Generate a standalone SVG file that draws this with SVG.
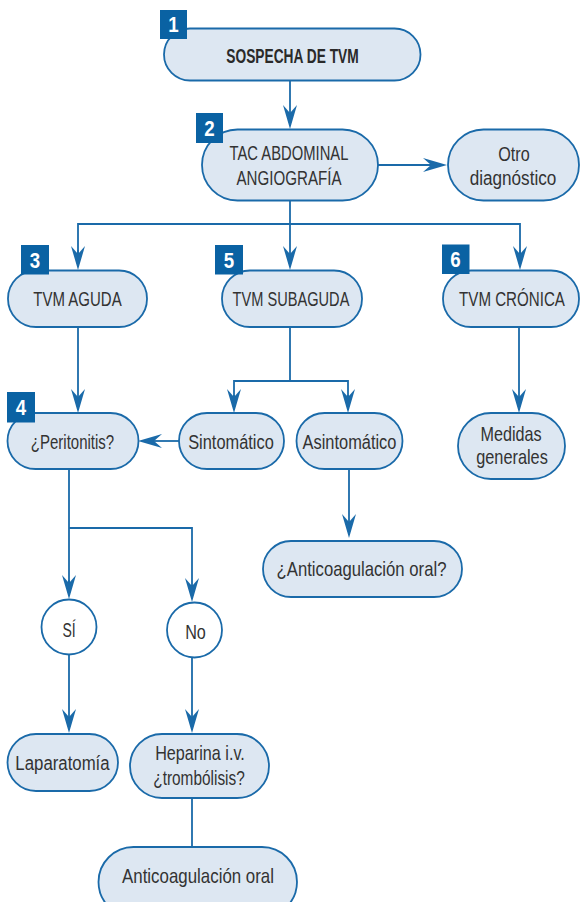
<svg xmlns="http://www.w3.org/2000/svg" width="580" height="902" viewBox="0 0 580 902">
<style>
.n{fill:#dde7f2;stroke:#1a6aa9;stroke-width:1.8}
.c{fill:none;stroke:#1a6aa9;stroke-width:1.8}
.b{fill:#0a62a3}
.t{font-family:"Liberation Sans",Arial,sans-serif;font-size:21px;fill:#333;text-anchor:middle}
.tb{font-family:"Liberation Sans",Arial,sans-serif;font-size:21px;font-weight:bold;fill:#2a2a2a;text-anchor:middle}
.bn{font-family:"Liberation Sans",Arial,sans-serif;font-size:22px;font-weight:bold;fill:#fff;text-anchor:middle}
</style>
<defs>
<marker id="ah" viewBox="0 0 24 14" refX="14" refY="7" markerWidth="24" markerHeight="14" markerUnits="userSpaceOnUse" orient="auto">
<path d="M24,7 L0,0 L8,7 L0,14 Z" fill="#1a6aa9"/>
</marker>
</defs>
<rect width="580" height="902" fill="#fff"/>
<g id="connectors">
<path class="c" d="M290,81 V119" marker-end="url(#ah)"/>
<path class="c" d="M378,165 H437" marker-end="url(#ah)"/>
<path class="c" d="M290,201 V260" marker-end="url(#ah)"/>
<path class="c" d="M78,260 V224 H520 V260" />
<path class="c" d="M78,250 V260" marker-end="url(#ah)"/>
<path class="c" d="M520,250 V260" marker-end="url(#ah)"/>
<path class="c" d="M78,327 V403" marker-end="url(#ah)"/>
<path class="c" d="M290,327 V381 M234,403 V381 H348 V403"/>
<path class="c" d="M234,395 V403" marker-end="url(#ah)"/>
<path class="c" d="M348,395 V403" marker-end="url(#ah)"/>
<path class="c" d="M179,441 H148" marker-end="url(#ah)"/>
<path class="c" d="M519,327 V403" marker-end="url(#ah)"/>
<path class="c" d="M349,469 V528" marker-end="url(#ah)"/>
<path class="c" d="M69,469 V589 M69,528 H192 V592"/>
<path class="c" d="M69,580 V589" marker-end="url(#ah)"/>
<path class="c" d="M192,585 V592" marker-end="url(#ah)"/>
<path class="c" d="M69,655 V723" marker-end="url(#ah)"/>
<path class="c" d="M192,658 V723" marker-end="url(#ah)"/>
<path class="c" d="M192,798 V847"/>
</g>
<g id="n1">
<rect class="n" x="164" y="28.5" width="256.5" height="52" rx="26"/>
<rect class="b" x="160" y="10" width="27" height="29"/>
<text class="bn" transform="translate(173.5 32) scale(0.85 1)">1</text>
<text class="tb" transform="translate(292.5 62.5) scale(0.655 1)">SOSPECHA DE TVM</text>
</g>
<g id="n2">
<rect class="n" x="202" y="129.5" width="176" height="71" rx="35.5"/>
<rect class="b" x="196" y="113" width="27" height="30"/>
<text class="bn" transform="translate(209.5 136) scale(0.85 1)">2</text>
<text class="t" transform="translate(289 160) scale(0.705 1)">TAC ABDOMINAL</text>
<text class="t" transform="translate(289 185) scale(0.72 1)">ANGIOGRAFÍA</text>
</g>
<g id="n_otro">
<rect class="n" x="448" y="129.5" width="131" height="71" rx="35.5"/>
<text class="t" transform="translate(514 161) scale(0.771 1)">Otro</text>
<text class="t" transform="translate(513 185) scale(0.816 1)">diagnóstico</text>
</g>
<g id="n3">
<rect class="n" x="8" y="270.5" width="139" height="56.5" rx="28"/>
<rect class="b" x="21" y="245" width="28" height="29.5"/>
<text class="bn" transform="translate(35 267.5) scale(0.85 1)">3</text>
<text class="t" transform="translate(77.5 306) scale(0.714 1)">TVM AGUDA</text>
</g>
<g id="n5">
<rect class="n" x="222" y="270.5" width="140" height="56.5" rx="28"/>
<rect class="b" x="215" y="245" width="28" height="29.5"/>
<text class="bn" transform="translate(229 267.5) scale(0.85 1)">5</text>
<text class="t" transform="translate(291 306) scale(0.695 1)">TVM SUBAGUDA</text>
</g>
<g id="n6">
<rect class="n" x="443" y="270.5" width="136" height="56.5" rx="28"/>
<rect class="b" x="442" y="244.5" width="27.5" height="29.5"/>
<text class="bn" transform="translate(455.5 267) scale(0.85 1)">6</text>
<text class="t" transform="translate(512 306) scale(0.721 1)">TVM CRÓNICA</text>
</g>
<g id="n4">
<rect class="n" x="7.5" y="413" width="131" height="56" rx="28"/>
<rect class="b" x="7" y="392" width="28" height="30.5"/>
<text class="bn" transform="translate(21 415) scale(0.85 1)">4</text>
<text class="t" transform="translate(72.5 449) scale(0.714 1)">¿Peritonitis?</text>
</g>
<g id="n_sinto">
<rect class="n" x="179" y="413" width="105" height="56" rx="28"/>
<text class="t" transform="translate(231 448.5) scale(0.781 1)">Sintomático</text>
</g>
<g id="n_asinto">
<rect class="n" x="296.5" y="413" width="106" height="56" rx="28"/>
<text class="t" transform="translate(349.5 448.5) scale(0.781 1)">Asintomático</text>
</g>
<g id="n_medidas">
<rect class="n" x="458" y="413" width="107" height="66" rx="33"/>
<text class="t" transform="translate(511 440.5) scale(0.771 1)">Medidas</text>
<text class="t" transform="translate(512 464) scale(0.777 1)">generales</text>
</g>
<g id="n_anticoag_q">
<rect class="n" x="263" y="541" width="199" height="56" rx="28"/>
<text class="t" transform="translate(361.5 575.5) scale(0.795 1)">¿Anticoagulación oral?</text>
</g>
<g id="n_si">
<circle class="n" style="fill:#fff" cx="69" cy="627" r="27.5"/>
<text class="t" transform="translate(69 636.5) scale(0.667 1)">SÍ</text>
</g>
<g id="n_no">
<circle class="n" style="fill:#fff" cx="194.5" cy="630" r="27.5"/>
<text class="t" transform="translate(195.5 638.5) scale(0.771 1)">No</text>
</g>
<g id="n_lapa">
<rect class="n" x="7.5" y="734" width="110.5" height="57" rx="28.5"/>
<text class="t" transform="translate(62.5 770) scale(0.8 1)">Laparatomía</text>
</g>
<g id="n_hepa">
<rect class="n" x="130" y="734" width="139" height="64" rx="32"/>
<text class="t" transform="translate(200 759.5) scale(0.771 1)">Heparina i.v.</text>
<text class="t" transform="translate(199 785) scale(0.733 1)">¿trombólisis?</text>
</g>
<g id="n_anticoag">
<rect class="n" x="98.5" y="847" width="198.5" height="70" rx="35"/>
<text class="t" transform="translate(198 883) scale(0.804 1)">Anticoagulación oral</text>
</g>
</svg>
